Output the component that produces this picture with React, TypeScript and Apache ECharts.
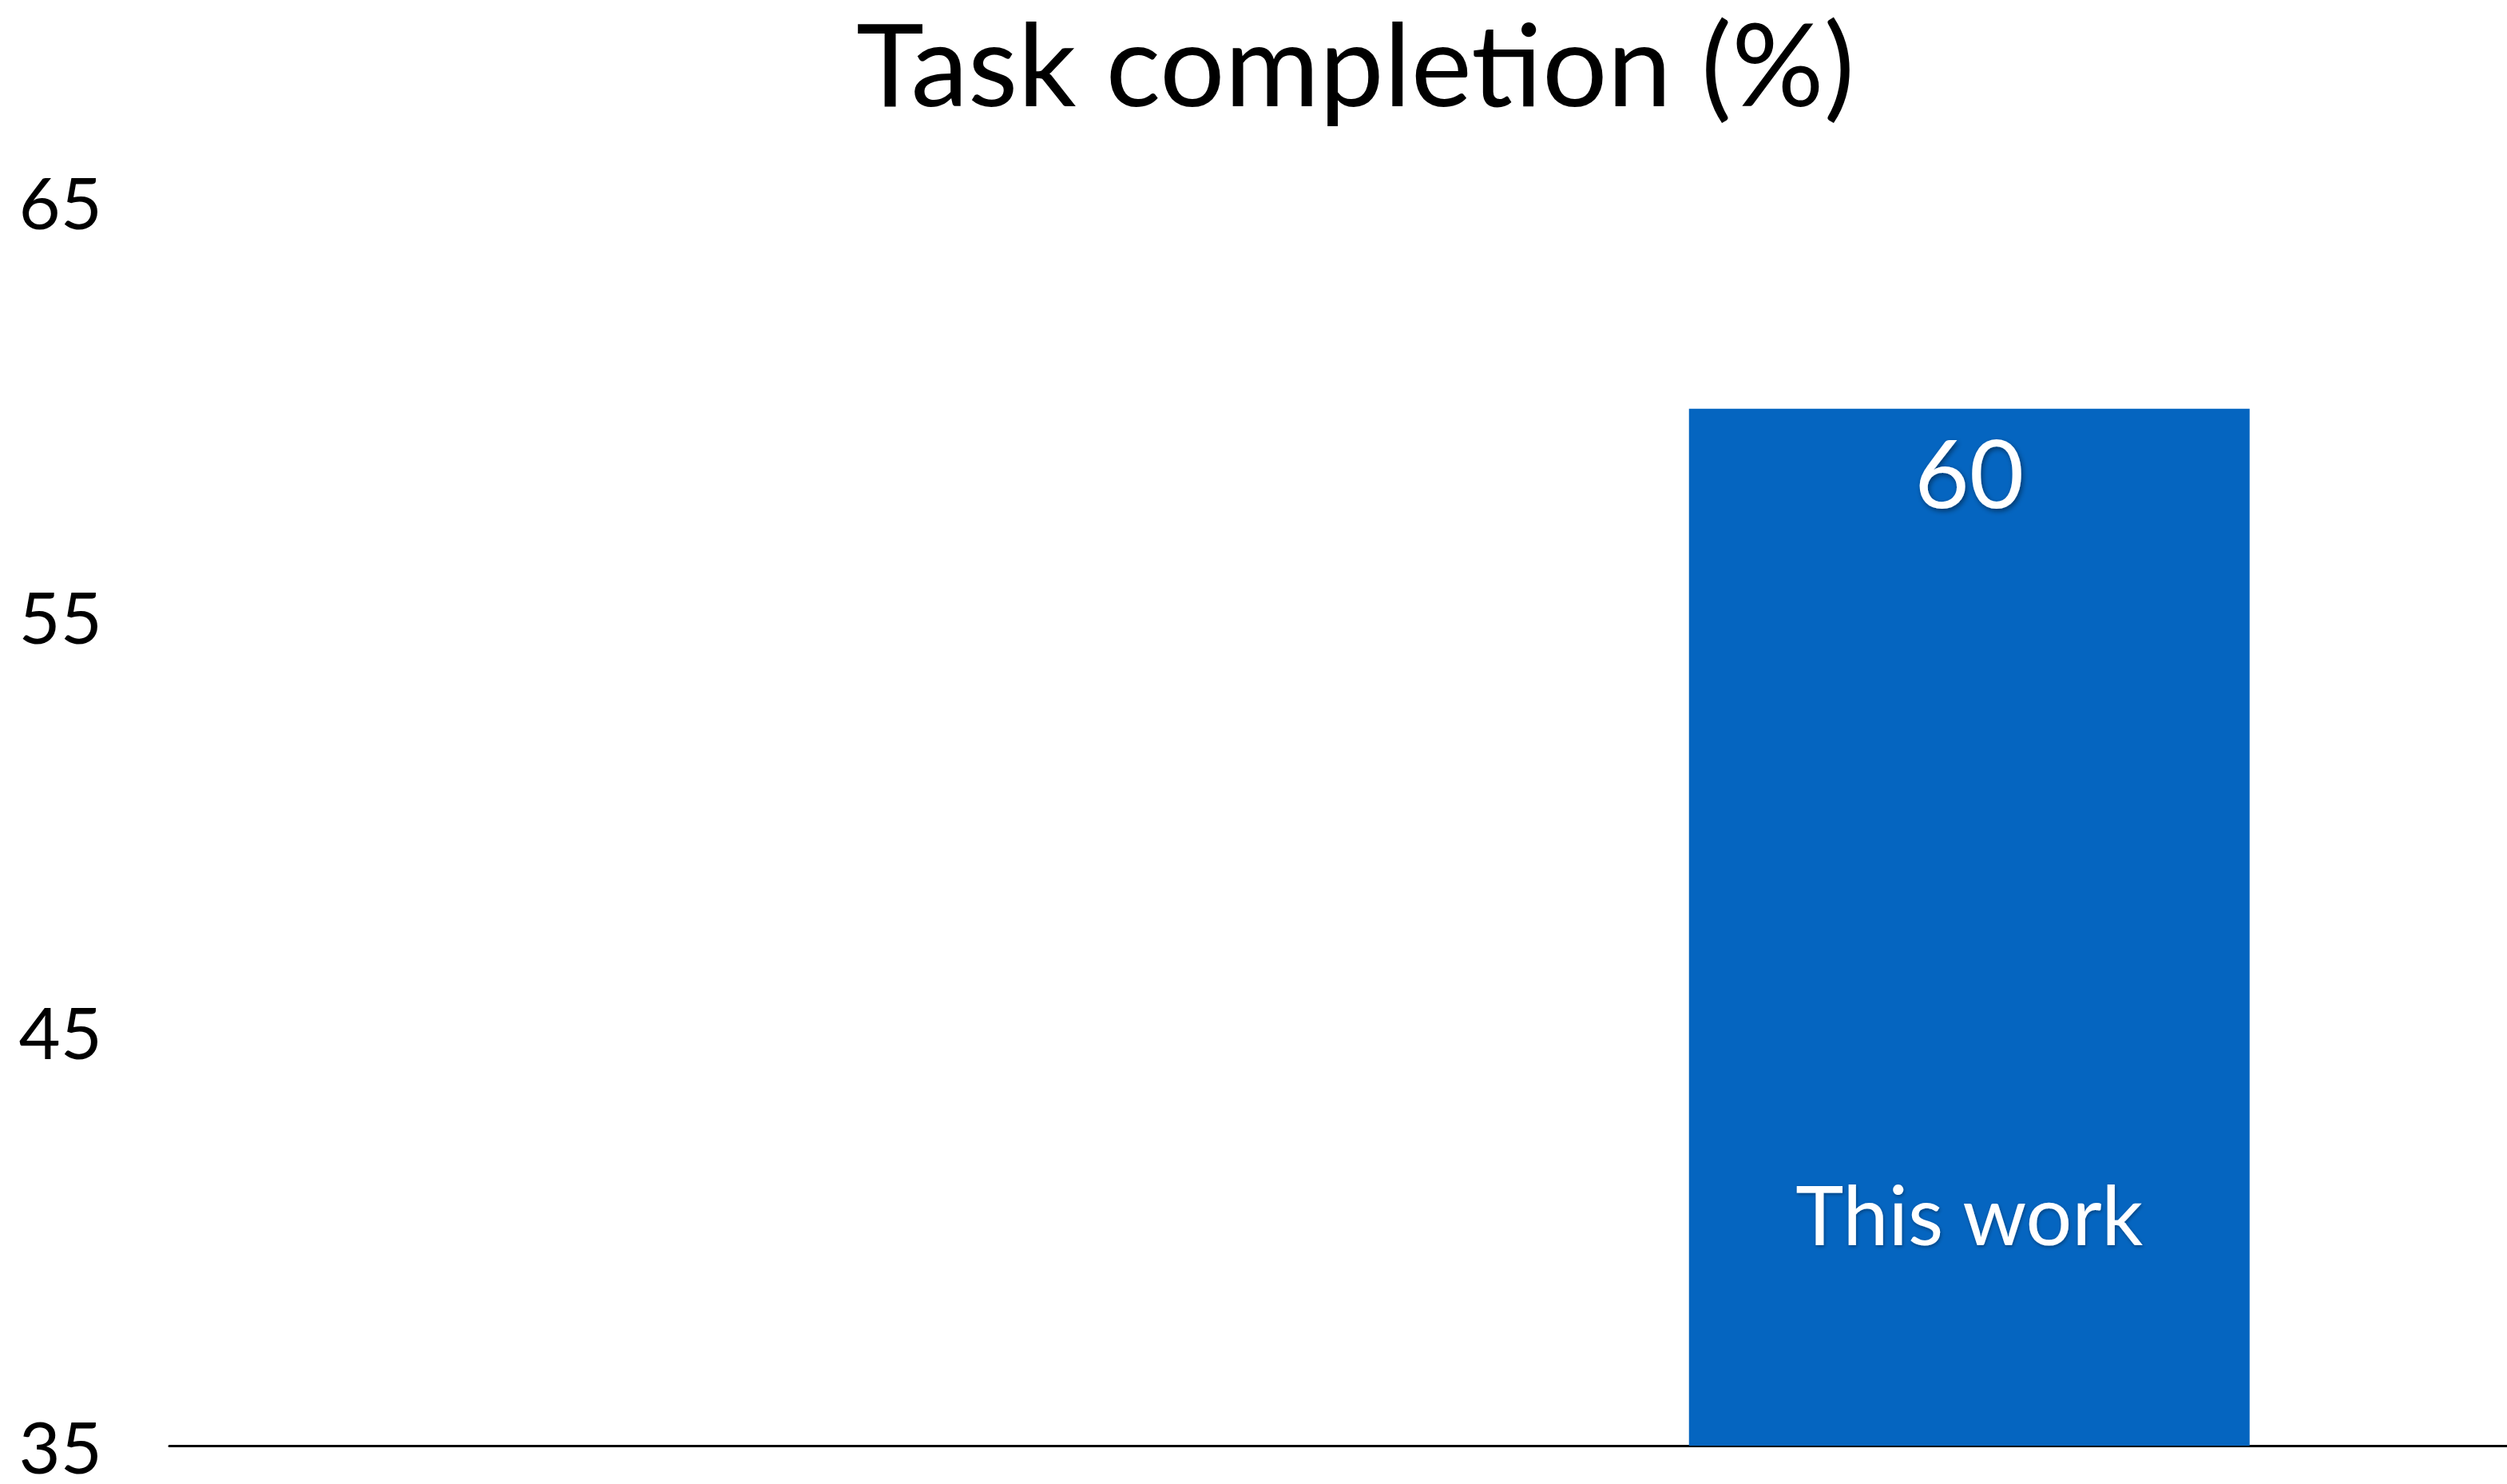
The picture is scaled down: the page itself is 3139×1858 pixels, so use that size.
import React, { useEffect, useRef } from "react";
import * as echarts from "echarts";

const categories = ["", "", "This work", ""];
const values: (number | null)[] = [null, null, 60, null];
const yTicks = [35, 45, 55, 65];
const titleText = "Task completion (%)";

const FONT = "Lato, 'Noto Sans', sans-serif";

export default function App() {
  const ref = useRef<HTMLDivElement>(null);
  useEffect(() => {
    if (!ref.current) return;
    const chart = echarts.init(ref.current, undefined, { renderer: "svg" });
    chart.setOption({
      animation: false,
      backgroundColor: "#ffffff",
      title: {
        text: titleText,
        left: 1692,
        top: 0,
        textAlign: "center",
        textStyle: { fontFamily: FONT, fontSize: 144, fontWeight: "normal", color: "#000" },
      },
      grid: {
        left: 212,
        width: 3606,
        top: 252,
        bottom: 48,
        containLabel: false,
        outerBoundsMode: "none",
      },
      xAxis: {
        type: "category",
        data: categories,
        axisLine: { show: true, lineStyle: { color: "#000", width: 3 } },
        axisTick: { show: false },
        axisLabel: { show: false },
        splitLine: { show: false },
      },
      yAxis: {
        type: "value",
        min: yTicks[0],
        max: yTicks[yTicks.length - 1],
        interval: 10,
        axisLine: { show: false },
        axisTick: { show: false },
        splitLine: { show: false },
        axisLabel: {
          fontFamily: FONT,
          fontSize: 90,
          color: "#000",
          margin: 84,
          padding: [0, 0, 40, 0],
        },
      },
      series: [
        {
          type: "bar",
          data: values,
          barWidth: 702,
          itemStyle: { color: "#0565C0" },
          label: {
            show: true,
            position: "insideTop",
            distance: 20,
            formatter: (p: any) => String(p.value),
            fontFamily: FONT,
            fontSize: 118,
            color: "#fff",
            textShadowColor: "rgba(0,0,0,0.45)",
            textShadowBlur: 6,
            textShadowOffsetX: 2,
            textShadowOffsetY: 3,
          },
        },
        {
          type: "bar",
          data: values,
          barWidth: 702,
          barGap: "-100%",
          itemStyle: { color: "rgba(0,0,0,0)" },
          silent: true,
          label: {
            show: true,
            position: "insideBottom",
            distance: 240,
            formatter: (p: any) => categories[p.dataIndex],
            fontFamily: FONT,
            fontSize: 102,
            color: "#fff",
            textShadowColor: "rgba(0,0,0,0.35)",
            textShadowBlur: 4,
            textShadowOffsetX: 1,
            textShadowOffsetY: 2,
          },
        },
      ],
    });
    return () => chart.dispose();
  }, []);
  return (
    <div
      ref={ref}
      style={{ position: "absolute", left: 0, top: 0, width: 3139, height: 1858 }}
    />
  );
}
